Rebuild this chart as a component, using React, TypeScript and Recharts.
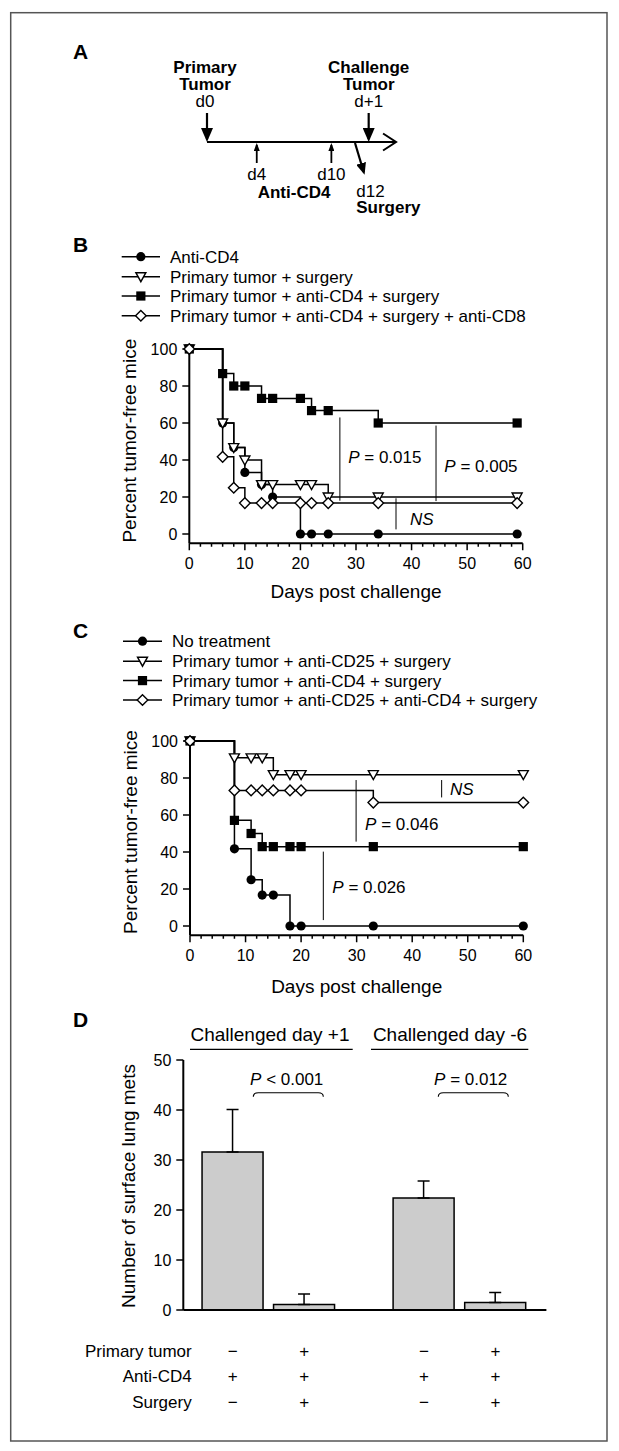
import React from 'react';
import { ComposedChart, Line, XAxis, YAxis, ReferenceLine, BarChart, Bar, ErrorBar } from 'recharts';

const FONT = '"Liberation Sans", Arial, Helvetica, sans-serif';

// ---------------- Panel A: schematic timeline (days) ----------------
const timelineTumorDays = [0, 13];        // primary tumor, challenge tumor
const timelineAntibodyDays = [4, 10];     // anti-CD4
const timelineSurgeryDays = [12];         // surgery
const timelineEndDay = 15.2;

// ---------------- Panel B ----------------
const bDays = [0, 6, 8, 10, 13, 15, 20, 22, 25, 34, 59];
const bAntiCD4 = [100, 60, 46.7, 33.3, 26.7, 20, 0, 0, 0, 0, 0];
const bPrimarySurgery = [100, 60, 46.7, 40, 26.7, 26.7, 26.7, 26.7, 20, 20, 20];
const bPrimaryAntiCD4Surgery = [100, 86.7, 80, 80, 73.3, 73.3, 73.3, 66.7, 66.7, 60, 60];
const bPrimaryAntiCD4SurgeryCD8 = [100, 41.7, 25, 16.7, 16.7, 16.7, 16.7, 16.7, 16.7, 16.7, 16.7];
const bSeriesNames = [
  'Anti-CD4',
  'Primary tumor + surgery',
  'Primary tumor + anti-CD4 + surgery',
  'Primary tumor + anti-CD4 + surgery + anti-CD8',
];
const bComparisons = [
  { day: 27.1, from: 63, to: 18, p: '0.015' },
  { day: 44.4, from: 58.6, to: 17.8, p: '0.005' },
  { day: 37.2, from: 19.3, to: 2.5, p: 'NS' },
];

// ---------------- Panel C ----------------
const cDays = [0, 8, 11, 13, 15, 18, 20, 33, 60];
const cNoTreatment = [100, 41.7, 25, 16.7, 16.7, 0, 0, 0, 0];
const cAntiCD25 = [100, 90.9, 90.9, 90.9, 81.8, 81.8, 81.8, 81.8, 81.8];
const cAntiCD4 = [100, 57.1, 50, 42.9, 42.9, 42.9, 42.9, 42.9, 42.9];
const cAntiCD25AntiCD4 = [100, 73.3, 73.3, 73.3, 73.3, 73.3, 73.3, 66.7, 66.7];
const cSeriesNames = [
  'No treatment',
  'Primary tumor + anti-CD25 + surgery',
  'Primary tumor + anti-CD4 + surgery',
  'Primary tumor + anti-CD25 + anti-CD4 + surgery',
];
const cComparisons = [
  { day: 45.3, from: 78.9, to: 69.5, p: 'NS' },
  { day: 29.9, from: 78.9, to: 45.6, p: '0.046' },
  { day: 24, from: 40.2, to: 3.2, p: '0.026' },
];

// ---------------- Panel D ----------------
const dGroupTitles = ['Challenged day +1', 'Challenged day -6'];
const dKeys = ['g1a', 'g1b', 'g2a', 'g2b'];
const dMeans = [31.6, 1.1, 22.4, 1.5];
const dErrUpper = [8.5, 2.1, 3.4, 2.0];
const dPrimaryTumor = ['\u2212', '+', '\u2212', '+'];
const dAntiCD4 = ['+', '+', '+', '+'];
const dSurgery = ['\u2212', '+', '\u2212', '+'];
const dRowLabels = ['Primary tumor', 'Anti-CD4', 'Surgery'];
const dPValues = ['< 0.001', '= 0.012'];

const kmXTicks = [0, 2, 4, 6, 8, 10, 12, 14, 16, 18, 20, 22, 24, 26, 28, 30, 32, 34, 36, 38, 40, 42, 44, 46, 48, 50, 52, 54, 56, 58, 60];
const kmYTicks = [0, 20, 40, 60, 80, 100];
const dYTicks = [0, 10, 20, 30, 40, 50];

// ---------------- helpers ----------------
type Kind = 'circle' | 'triangle' | 'square' | 'diamond';
const markerKinds: Kind[] = ['circle', 'triangle', 'square', 'diamond'];

function Marker({ kind, cx, cy }: { kind: Kind; cx: number; cy: number }) {
  if (cx == null || cy == null || isNaN(cx) || isNaN(cy)) return null;
  if (kind === 'circle') return <circle cx={cx} cy={cy} r={4.6} fill="#000" />;
  if (kind === 'square') return <rect x={cx - 4.6} y={cy - 4.6} width={9.2} height={9.2} fill="#000" />;
  if (kind === 'triangle')
    return <path d={`M${cx - 5},${cy - 4} L${cx + 5},${cy - 4} L${cx},${cy + 5} Z`} fill="#fff" stroke="#000" strokeWidth={1.4} />;
  return <path d={`M${cx},${cy - 5.3} L${cx + 5.3},${cy} L${cx},${cy + 5.3} L${cx - 5.3},${cy} Z`} fill="#fff" stroke="#000" strokeWidth={1.4} />;
}

const buildRows = (days: number[], series: number[][]) =>
  days.map((d, i) => {
    const r: any = { day: d };
    series.forEach((s, k) => (r['s' + k] = s[i]));
    return r;
  });

const bRows = buildRows(bDays, [bAntiCD4, bPrimarySurgery, bPrimaryAntiCD4Surgery, bPrimaryAntiCD4SurgeryCD8]);
const cRows = buildRows(cDays, [cNoTreatment, cAntiCD25, cAntiCD4, cAntiCD25AntiCD4]);

const KmXTick = (p: any) => {
  const v = p.payload.value;
  const major = v % 10 === 0;
  return (
    <g>
      <line x1={p.x} x2={p.x} y1={p.y} y2={p.y + (major ? 7 : 3.5)} stroke="#000" strokeWidth={1.5} />
      {major && (
        <text x={p.x} y={p.y + 25.5} textAnchor="middle" fontSize={16} fontFamily={FONT} fill="#000">
          {v}
        </text>
      )}
    </g>
  );
};

// offsets of comparison text relative to the comparison line (style only)
const annotOffsets: Record<string, { dx: number; dy: number }> = {
  'b0': { dx: 8.3, dy: 45.8 },
  'b1': { dx: 8.3, dy: 46 },
  'b2': { dx: 14, dy: 26.7 },
  'c0': { dx: 8.3, dy: 15 },
  'c1': { dx: 9, dy: 50 },
  'c2': { dx: 9, dy: 41.7 },
};

function renderAnnot(lp: any, p: string, id: string) {
  const vb = lp && lp.viewBox ? lp.viewBox : lp;
  if (!vb || vb.x == null) return null;
  const o = annotOffsets[id];
  const x = vb.x + o.dx;
  const y = vb.y + o.dy;
  if (p === 'NS')
    return (
      <text x={x} y={y} fontSize={17} fontFamily={FONT} fontStyle="italic" fill="#000">
        NS
      </text>
    );
  return (
    <text x={x} y={y} fontSize={17} fontFamily={FONT} fill="#000">
      <tspan fontStyle="italic">P</tspan> = {p}
    </text>
  );
}

function KmPanel(props: {
  top: number;
  marginTop: number;
  marginLeft: number;
  marginRight: number;
  rows: any[];
  comparisons: { day: number; from: number; to: number; p: string }[];
  prefix: string;
}) {
  const { top, marginTop, marginLeft, marginRight, rows, comparisons, prefix } = props;
  const plotH = 105 * 1.85;
  const height = marginTop + plotH + 40;
  const order = [0, 1, 2, 3];
  return (
    <div style={{ position: 'absolute', left: 0, top }}>
      <ComposedChart width={619} height={height} data={rows} margin={{ top: marginTop, left: marginLeft, right: marginRight, bottom: 0 }}>
        <XAxis
          dataKey="day"
          type="number"
          domain={[0, 60]}
          ticks={kmXTicks}
          interval={0}
          tick={<KmXTick />}
          tickLine={false}
          tickSize={0}
          tickMargin={0}
          height={40}
          axisLine={{ stroke: '#000', strokeWidth: 2 }}
        />
        <YAxis
          type="number"
          domain={[-5, 100]}
          ticks={kmYTicks}
          interval={0}
          width={60}
          tickSize={7}
          tickMargin={5}
          tickLine={{ stroke: '#000', strokeWidth: 1.5 }}
          axisLine={{ stroke: '#000', strokeWidth: 2 }}
          tick={{ fontSize: 16, fill: '#000', fontFamily: FONT }}
        />
        {order.map((k) => (
          <Line key={'l' + k} dataKey={'s' + k} type="stepAfter" stroke="#000" strokeWidth={1.5} dot={false} activeDot={false} isAnimationActive={false} />
        ))}
        {comparisons.map((c, i) => (
          <ReferenceLine
            key={'r' + i}
            segment={[
              { x: c.day, y: c.from },
              { x: c.day, y: c.to },
            ]}
            stroke="#000"
            strokeWidth={1}
            label={(lp: any) => renderAnnot(lp, c.p, prefix + i)}
          />
        ))}
        {order.map((k) => (
          <Line
            key={'d' + k}
            dataKey={'s' + k}
            type="stepAfter"
            stroke="none"
            strokeWidth={0}
            activeDot={false}
            isAnimationActive={false}
            dot={(p: any) => (
              <g key={'m' + k + '-' + p.index}>
                <Marker kind={markerKinds[k]} cx={p.cx} cy={p.cy} />
              </g>
            )}
          />
        ))}
      </ComposedChart>
    </div>
  );
}

// ---------------- Panel A chart ----------------
const arrowShape = (marker: string, w: number) => (p: any) =>
  <line x1={p.x1} y1={p.y1} x2={p.x2} y2={p.y2} stroke="#000" strokeWidth={w} markerEnd={`url(#${marker})`} />;

// A chart geometry: plot x from 207 (day 0), 199px for 16 days
const A_LEFT = 100;
const A_MARGIN_LEFT = 107;
const A_PX_PER_DAY = 199 / 16;
const aX = (d: number) => A_LEFT + A_MARGIN_LEFT + d * A_PX_PER_DAY;

function TimelineChart() {
  const rows = [...timelineTumorDays, ...timelineAntibodyDays, ...timelineSurgeryDays].map((d) => ({ d, y: 0 }));
  return (
    <div style={{ position: 'absolute', left: A_LEFT, top: 42 }}>
      <ComposedChart width={407} height={180} data={rows} margin={{ left: A_MARGIN_LEFT, right: 101, top: 0, bottom: 0 }}>
        <XAxis dataKey="d" type="number" domain={[0, 16]} hide />
        <YAxis dataKey="y" type="number" domain={[-80, 100]} hide />
        <Line dataKey="y" stroke="none" dot={false} activeDot={false} isAnimationActive={false} />
        <ReferenceLine
          segment={[
            { x: 0, y: 0 },
            { x: timelineEndDay, y: 0 },
          ]}
          stroke="#000"
          strokeWidth={2}
          ifOverflow="visible"
          shape={arrowShape('ahOpen', 2)}
        />
        {timelineTumorDays.map((d) => (
          <ReferenceLine
            key={'t' + d}
            segment={[
              { x: d, y: 29 },
              { x: d, y: 3 },
            ]}
            stroke="#000"
            strokeWidth={2.2}
            ifOverflow="visible"
            shape={arrowShape('ahBig', 2.2)}
          />
        ))}
        {timelineAntibodyDays.map((d) => (
          <ReferenceLine
            key={'a' + d}
            segment={[
              { x: d, y: -21 },
              { x: d, y: -3 },
            ]}
            stroke="#000"
            strokeWidth={1.8}
            ifOverflow="visible"
            shape={arrowShape('ahSmall', 1.8)}
          />
        ))}
        {timelineSurgeryDays.map((d) => (
          <ReferenceLine
            key={'s' + d}
            segment={[
              { x: d - 0.1, y: -1 },
              { x: d + 0.6, y: -30 },
            ]}
            stroke="#000"
            strokeWidth={2.2}
            ifOverflow="visible"
            shape={arrowShape('ahMid', 2.2)}
          />
        ))}
      </ComposedChart>
    </div>
  );
}

// ---------------- Panel D charts ----------------
const dRows = dKeys.map((k, i) => ({ key: k, mean: dMeans[i], err: [0, dErrUpper[i]] }));
const dRowOffsets = [46.7, 72.3, 98.3];

const DTick = (p: any) => {
  const i = dKeys.indexOf(p.payload.value);
  return (
    <g>
      {[dPrimaryTumor, dAntiCD4, dSurgery].map((row, r) => (
        <text key={r} x={p.x} y={p.y + dRowOffsets[r]} textAnchor="middle" fontSize={17} fontFamily={FONT} fill="#000">
          {row[i]}
        </text>
      ))}
    </g>
  );
};

function BarPanel(props: { left: number; width: number; rows: any[]; marginLeft: number; marginRight: number; yWidth: number; showTicks: boolean; padding: { left: number; right: number } }) {
  const { left, width, rows, marginLeft, marginRight, yWidth, showTicks, padding } = props;
  return (
    <div style={{ position: 'absolute', left, top: 1040 }}>
      <BarChart width={width} height={380} data={rows} margin={{ top: 20, left: marginLeft, right: marginRight, bottom: 0 }}>
        <XAxis
          dataKey="key"
          type="category"
          interval={0}
          padding={padding}
          tick={<DTick />}
          tickLine={false}
          tickSize={0}
          tickMargin={0}
          height={110}
          axisLine={{ stroke: '#000', strokeWidth: 2 }}
        />
        <YAxis
          type="number"
          domain={[0, 50]}
          ticks={dYTicks}
          interval={0}
          width={yWidth}
          tick={showTicks ? { fontSize: 16, fill: '#000', fontFamily: FONT } : false}
          tickLine={showTicks ? { stroke: '#000', strokeWidth: 1.5 } : false}
          tickSize={7}
          tickMargin={5}
          axisLine={{ stroke: '#000', strokeWidth: 2 }}
        />
        <Bar dataKey="mean" fill="#cccccc" stroke="#000" strokeWidth={1.5} barSize={61} isAnimationActive={false}>
          <ErrorBar dataKey="err" direction="y" width={6} stroke="#000" strokeWidth={1.5} />
        </Bar>
      </BarChart>
    </div>
  );
}

// ---------------- overlay text ----------------
const T = (p: { x: number; y: number; children: any; anchor?: 'start' | 'middle' | 'end'; size?: number; bold?: boolean; italic?: boolean }) => (
  <text
    x={p.x}
    y={p.y}
    textAnchor={p.anchor || 'start'}
    fontSize={p.size || 17}
    fontWeight={p.bold ? 'bold' : 'normal'}
    fontStyle={p.italic ? 'italic' : 'normal'}
    fontFamily={FONT}
    fill="#000"
  >
    {p.children}
  </text>
);

function LegendBlock({ names, x1, x2, tx, ys }: { names: string[]; x1: number; x2: number; tx: number; ys: number[] }) {
  return (
    <g>
      {names.map((n, i) => (
        <g key={i}>
          <line x1={x1} x2={x2} y1={ys[i]} y2={ys[i]} stroke="#000" strokeWidth={1.5} />
          <Marker kind={markerKinds[i]} cx={(x1 + x2) / 2} cy={ys[i]} />
          <T x={tx} y={ys[i] + 6}>{n}</T>
        </g>
      ))}
    </g>
  );
}

function Bracket({ x1, x2, y }: { x1: number; x2: number; y: number }) {
  return (
    <path
      d={`M${x1},${y + 4} Q${x1},${y} ${x1 + 5},${y} L${x2 - 5},${y} Q${x2},${y} ${x2},${y + 4}`}
      fill="none"
      stroke="#000"
      strokeWidth={1.1}
    />
  );
}

function Overlay() {
  return (
    <svg width={619} height={1451} style={{ position: 'absolute', left: 0, top: 0, pointerEvents: 'none' }}>
      <defs>
        <marker id="ahBig" markerUnits="userSpaceOnUse" viewBox="0 0 14 12" markerWidth={14} markerHeight={12} refX={11} refY={6} orient="auto">
          <path d="M0,0 L14,6 L0,12 Z" fill="#000" />
        </marker>
        <marker id="ahMid" markerUnits="userSpaceOnUse" viewBox="0 0 12 10" markerWidth={12} markerHeight={10} refX={9} refY={5} orient="auto">
          <path d="M0,0 L12,5 L0,10 Z" fill="#000" />
        </marker>
        <marker id="ahSmall" markerUnits="userSpaceOnUse" viewBox="0 0 8 6" markerWidth={8} markerHeight={6} refX={6} refY={3} orient="auto">
          <path d="M0,0 L8,3 L0,6 Z" fill="#000" />
        </marker>
        <marker id="ahOpen" markerUnits="userSpaceOnUse" viewBox="-2 -2 17 21" markerWidth={17} markerHeight={21} refX={13} refY={8.5} orient="auto">
          <path d="M0,0 L13,8.5 L0,17" fill="none" stroke="#000" strokeWidth={2} />
        </marker>
      </defs>

      <rect x={10.7} y={12.7} width={596.3} height={1428.3} fill="none" stroke="#555" strokeWidth={1.5} />

      {/* panel letters */}
      <T x={73} y={58.5} size={21} bold>A</T>
      <T x={73} y={251.5} size={21} bold>B</T>
      <T x={73} y={637.5} size={21} bold>C</T>
      <T x={73} y={1027} size={21} bold>D</T>

      {/* Panel A labels */}
      <T x={aX(timelineTumorDays[0]) - 2} y={72.7} anchor="middle" bold>Primary</T>
      <T x={aX(timelineTumorDays[0]) - 2} y={90} anchor="middle" bold>Tumor</T>
      <T x={aX(timelineTumorDays[0]) - 2} y={106.5} anchor="middle">d0</T>
      <T x={aX(timelineTumorDays[1])} y={72.7} anchor="middle" bold>Challenge</T>
      <T x={aX(timelineTumorDays[1])} y={90} anchor="middle" bold>Tumor</T>
      <T x={aX(timelineTumorDays[1])} y={106.5} anchor="middle">d+1</T>
      {timelineAntibodyDays.map((d) => (
        <T key={d} x={aX(d)} y={180} anchor="middle">{'d' + d}</T>
      ))}
      <T x={(aX(timelineAntibodyDays[0]) + aX(timelineAntibodyDays[1])) / 2} y={198.3} anchor="middle" bold>Anti-CD4</T>
      <T x={aX(timelineSurgeryDays[0])} y={196.7}>{'d' + timelineSurgeryDays[0]}</T>
      <T x={aX(timelineSurgeryDays[0])} y={213.3} bold>Surgery</T>

      {/* Panel B legend and axis titles */}
      <LegendBlock names={bSeriesNames} x1={121.7} x2={160} tx={170} ys={[256.7, 276.7, 296, 315.7]} />
      <text transform="translate(129.3,440.7) rotate(-90)" textAnchor="middle" dy="0.35em" fontSize={19} fontFamily={FONT} fill="#000">
        Percent tumor-free mice
      </text>
      <T x={356} y={598} anchor="middle" size={19}>Days post challenge</T>

      {/* Panel C legend and axis titles */}
      <LegendBlock names={cSeriesNames} x1={123} x2={162} tx={172} ys={[641.2, 661.2, 680.6, 700]} />
      <text transform="translate(130,832) rotate(-90)" textAnchor="middle" dy="0.35em" fontSize={19} fontFamily={FONT} fill="#000">
        Percent tumor-free mice
      </text>
      <T x={356.7} y={992.7} anchor="middle" size={19}>Days post challenge</T>

      {/* Panel D */}
      <T x={270} y={1040.7} anchor="middle" size={19}>{dGroupTitles[0]}</T>
      <line x1={190} x2={352.7} y1={1049.3} y2={1049.3} stroke="#000" strokeWidth={1.3} />
      <T x={450} y={1040.7} anchor="middle" size={19}>{dGroupTitles[1]}</T>
      <line x1={371} x2={528.3} y1={1049.3} y2={1049.3} stroke="#000" strokeWidth={1.3} />
      <text x={286.7} y={1085} textAnchor="middle" fontSize={17} fontFamily={FONT} fill="#000">
        <tspan fontStyle="italic">P</tspan> {dPValues[0]}
      </text>
      <Bracket x1={253.3} x2={323.3} y={1092.7} />
      <text x={470.7} y={1085} textAnchor="middle" fontSize={17} fontFamily={FONT} fill="#000">
        <tspan fontStyle="italic">P</tspan> {dPValues[1]}
      </text>
      <Bracket x1={438.3} x2={508.3} y={1092.7} />
      <text transform="translate(128,1186) rotate(-90)" textAnchor="middle" dy="0.35em" fontSize={19} fontFamily={FONT} fill="#000">
        Number of surface lung mets
      </text>
      {dRowLabels.map((l, i) => (
        <T key={l} x={191.7} y={1310 + dRowOffsets[i]} anchor="end">{l}</T>
      ))}
    </svg>
  );
}

export default function App() {
  return (
    <div style={{ position: 'absolute', left: 0, top: 0, width: 619, height: 1451, background: '#fff', fontFamily: FONT }}>
      <TimelineChart />
      <KmPanel top={330} marginTop={19} marginLeft={129.3} marginRight={96.3} rows={bRows} comparisons={bComparisons} prefix="b" />
      <KmPanel top={720} marginTop={21} marginLeft={130} marginRight={95.7} rows={cRows} comparisons={cComparisons} prefix="c" />
      <BarPanel left={0} width={363.3} rows={dRows.slice(0, 2)} marginLeft={123.3} marginRight={0} yWidth={60} showTicks padding={{ left: 13.75, right: 23.25 }} />
      <BarPanel left={363.3} width={255.7} rows={dRows.slice(2)} marginLeft={0} marginRight={72.3} yWidth={0} showTicks={false} padding={{ left: 25.1, right: 15.1 }} />
      <Overlay />
    </div>
  );
}
